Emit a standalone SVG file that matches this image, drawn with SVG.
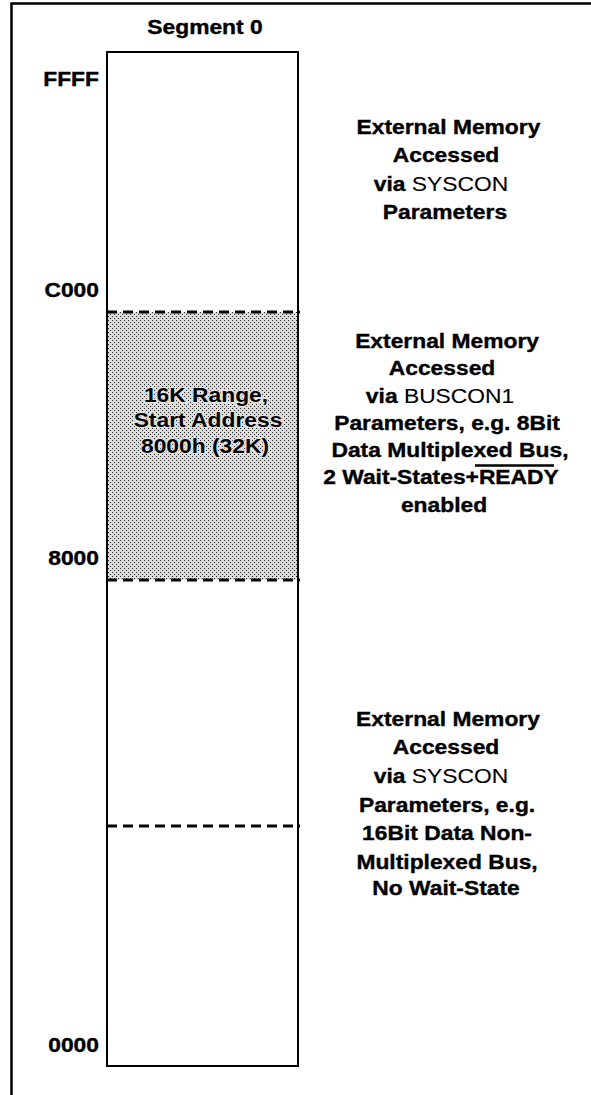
<svg xmlns="http://www.w3.org/2000/svg" width="591" height="1095" viewBox="0 0 591 1095">
  <style>
    .frame { fill: none; stroke: #000; stroke-width: 2.5; }
    .seg { fill: none; stroke: #000; stroke-width: 2; }
    .div { stroke: #000; stroke-width: 3; stroke-dasharray: 10 6; fill: none; }
    .t { font-family: "Liberation Sans", Arial, sans-serif; font-size: 19.5px; font-weight: bold; fill: #000; stroke: #000; stroke-width: 0.35; }
    .r { font-weight: normal; stroke-width: 0.1; }
    .mid { text-anchor: middle; }
    .end { text-anchor: end; }
    .halo { stroke: #e4e4e4; stroke-width: 2.2; paint-order: stroke; }
  </style>
  <defs>
    <!-- fine dot screen for the highlighted address window -->
    <pattern id="dots" patternUnits="userSpaceOnUse" x="0" y="0" width="4" height="4">
      <rect width="4" height="4" fill="#dcdcdc"/>
      <rect x="0" y="0" width="1" height="1" fill="#222"/>
      <rect x="2" y="2" width="1" height="1" fill="#222"/>
    </pattern>
  </defs>

  <rect width="591" height="1095" fill="#fff"/>

  <!-- page frame: top and left edges -->
  <path class="frame" d="M11.5 1095 V3.5 H591"/>

  <!-- segment 0 memory column -->
  <g id="segment0">
    <rect x="108" y="312" width="190" height="268" fill="url(#dots)" shape-rendering="crispEdges"/>
    <rect class="seg" x="107" y="52" width="191" height="1014"/>
    <g transform="scale(1.17 1)">
      <text class="t mid" x="175.2" y="34">Segment 0</text>
    </g>
  </g>

  <!-- region boundaries -->
  <g id="connectors">
    <line class="div" x1="107" y1="312" x2="300" y2="312"/>
    <line class="div" x1="107" y1="580" x2="300" y2="580"/>
    <line class="div" x1="107" y1="826" x2="300" y2="826"/>
  </g>

  <!-- address marks -->
  <g id="addresses" transform="scale(1.17 1)">
    <text class="t end" x="84.6" y="86">FFFF</text>
    <text class="t end" x="84.6" y="297">C000</text>
    <text class="t end" x="84.6" y="565">8000</text>
    <text class="t end" x="84.6" y="1052">0000</text>
  </g>

  <!-- highlighted window label -->
  <g id="window" transform="scale(1.17 1)">
    <text class="t mid halo" x="176.1" y="402">16K Range,</text>
    <text class="t mid halo" x="177.8" y="427.5">Start Address</text>
    <text class="t mid halo" x="175.2" y="453">8000h (32K)</text>
  </g>

  <!-- upper region description -->
  <g id="upper" transform="scale(1.17 1)">
    <text class="t mid" x="383.3" y="134">External Memory</text>
    <text class="t mid" x="381.2" y="162.5">Accessed</text>
    <text class="t mid" x="376.9" y="191">via <tspan class="r">SYSCON</tspan></text>
    <text class="t mid" x="380.3" y="219">Parameters</text>
  </g>

  <!-- BUSCON1 region description -->
  <g id="buscon1">
    <g transform="scale(1.17 1)">
      <text class="t mid" x="382.1" y="348">External Memory</text>
      <text class="t mid" x="377.8" y="375.3">Accessed</text>
      <text class="t mid" x="376.1" y="402.6">via <tspan class="r">BUSCON1</tspan></text>
      <text class="t mid" x="382.1" y="430">Parameters, e.g. 8Bit</text>
      <text class="t mid" x="384.6" y="457">Data Multiplexed Bus,</text>
      <text class="t mid" x="376.9" y="484.5">2 Wait-States+READY</text>
      <text class="t mid" x="379.5" y="512">enabled</text>
    </g>
    <line x1="475" y1="465.5" x2="554" y2="465.5" stroke="#000" stroke-width="2.5"/>
  </g>

  <!-- lower region description -->
  <g id="lower" transform="scale(1.17 1)">
    <text class="t mid" x="382.9" y="726">External Memory</text>
    <text class="t mid" x="381.2" y="754">Accessed</text>
    <text class="t mid" x="376.9" y="783">via <tspan class="r">SYSCON</tspan></text>
    <text class="t mid" x="382.1" y="812">Parameters, e.g.</text>
    <text class="t mid" x="382.1" y="840">16Bit Data Non-</text>
    <text class="t mid" x="382.1" y="869">Multiplexed Bus,</text>
    <text class="t mid" x="381.2" y="895">No Wait-State</text>
  </g>
</svg>
